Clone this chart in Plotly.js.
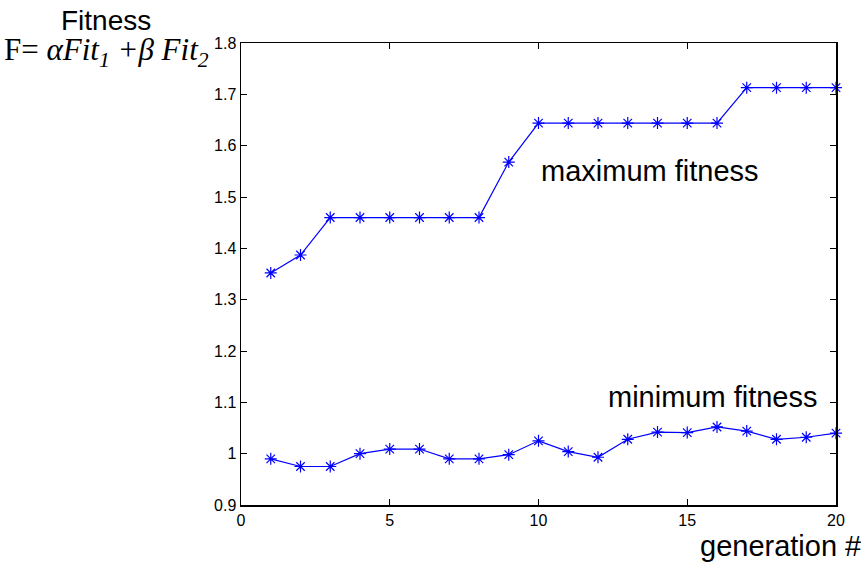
<!DOCTYPE html>
<html><head><meta charset="utf-8">
<script src="https://cdn.plot.ly/plotly-3.0.1.min.js"></script>
<style>body{margin:0;background:#fff}</style>
</head><body><div id="chart" style="width:861px;height:565px"></div>
<script>
const generations = [1,2,3,4,5,6,7,8,9,10,11,12,13,14,15,16,17,18,19,20];
const maxFitness = [1.352,1.387,1.460,1.460,1.460,1.460,1.460,1.460,1.568,1.644,1.644,1.644,1.644,1.644,1.644,1.644,1.713,1.713,1.713,1.713];
const minFitness = [0.990,0.975,0.975,1.000,1.009,1.009,0.990,0.990,0.998,1.025,1.004,0.993,1.028,1.042,1.041,1.052,1.044,1.028,1.032,1.040];
const xTicks = [0,5,10,15,20];
const yTicks = [0.9,1.0,1.1,1.2,1.3,1.4,1.5,1.6,1.7,1.8];
const yTickLabels = ['0.9','1','1.1','1.2','1.3','1.4','1.5','1.6','1.7','1.8'];

const mk = {symbol:'asterisk-open', size:10, color:'#0000ff', line:{color:'#0000ff', width:1.2}};
const traces = [
  {x:generations, y:maxFitness, mode:'lines+markers', line:{color:'#0000ff', width:1.2}, marker:mk, cliponaxis:false},
  {x:generations, y:minFitness, mode:'lines+markers', line:{color:'#0000ff', width:1.2}, marker:mk, cliponaxis:false}
];
const L = 241, R = 25, T = 43, B = 60;
const W = 861-L-R, H = 565-T-B;
const px = v => (v-L)/W;
const py = v => 1-(v-T)/H;
const layout = {
  width:861, height:565,
  margin:{l:L, r:R, t:T, b:B},
  paper_bgcolor:'#fff', plot_bgcolor:'#fff',
  showlegend:false,
  font:{family:'Liberation Sans, Arial, sans-serif', size:16, color:'#000'},
  xaxis:{range:[0,20], tickvals:xTicks, ticks:'inside', ticklen:6, tickcolor:'#000',
         showline:true, linecolor:'#000', linewidth:1.5, mirror:'ticks', showgrid:false, zeroline:false,
         tickfont:{size:16}},
  yaxis:{range:[0.9,1.8], tickvals:yTicks, ticktext:yTickLabels, ticks:'inside', ticklen:6, tickcolor:'#000',
         showline:true, linecolor:'#000', linewidth:1.5, mirror:'ticks', showgrid:false, zeroline:false,
         tickfont:{size:16}},
  annotations:[
    {x:10.0, y:1.551, xref:'x', yref:'y', text:'maximum fitness', showarrow:false, xanchor:'left', yanchor:'middle', font:{size:29}},
    {x:19.45, y:1.110, xref:'x', yref:'y', text:'minimum fitness', showarrow:false, xanchor:'right', yanchor:'middle', font:{size:29}},
    {x:px(59), y:py(20), xref:'paper', yref:'paper', text:'Fitness', showarrow:false, xanchor:'left', yanchor:'middle', font:{size:28}},
    {x:px(863), y:py(546), xref:'paper', yref:'paper', text:'generation #', showarrow:false, xanchor:'right', yanchor:'middle', font:{size:29}},
    {x:px(2), y:py(52), xref:'paper', yref:'paper', showarrow:false, xanchor:'left', yanchor:'middle',
     text:'F= <i>αFit<sub>1</sub> +β Fit<sub>2</sub></i>', font:{family:'Liberation Serif, Times New Roman, serif', size:31}}
  ]
};
Plotly.newPlot('chart', traces, layout, {displayModeBar:false, staticPlot:true});
</script></body></html>
